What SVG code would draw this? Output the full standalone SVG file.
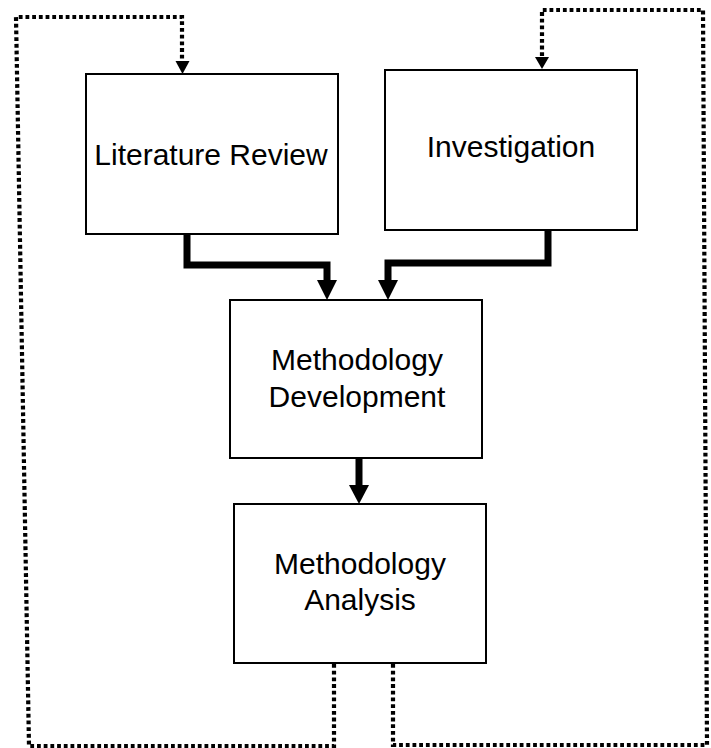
<svg xmlns="http://www.w3.org/2000/svg" width="711" height="748" viewBox="0 0 711 748">
  <style>
    .box { fill: #ffffff; stroke: #000000; stroke-width: 2; }
    .label { font-family: "Liberation Sans", Arial, sans-serif; font-size: 30px; fill: #000000; text-anchor: middle; }
    .flow { fill: none; stroke: #000000; stroke-width: 7; stroke-linejoin: miter; }
    .loop { fill: none; stroke: #000000; stroke-width: 4.2; stroke-dasharray: 3.8 2.9; }
    .head { fill: #000000; stroke: none; }
  </style>

  <rect width="711" height="748" fill="#ffffff"/>

  <!-- connectors -->
  <g id="connectors">
    <!-- solid flow arrows -->
    <path class="flow" d="M187,233 V265 H327 V282"/>
    <polygon class="head" points="317,280 337,280 327,300"/>
    <path class="flow" d="M548,230 V263 H388 V282"/>
    <polygon class="head" points="378,280 398,280 388,300"/>
    <path class="flow" d="M359,458 V487"/>
    <polygon class="head" points="349,485 369,485 359,504"/>

    <!-- dotted feedback loops -->
    <path class="loop" d="M334,664 V746 H29 L16,17 H182 V62"/>
    <polygon class="head" points="175.5,61 189.5,61 182.5,74"/>
    <path class="loop" d="M393,664 V745 H707 L703,10 H542 V58"/>
    <polygon class="head" points="535,57 549,57 542,69"/>
  </g>

  <!-- nodes -->
  <g id="literature-review">
    <rect class="box" x="86" y="74" width="252" height="160"/>
    <text class="label" x="211" y="165">Literature Review</text>
  </g>

  <g id="investigation">
    <rect class="box" x="385" y="70" width="252" height="160"/>
    <text class="label" x="511" y="157">Investigation</text>
  </g>

  <g id="methodology-development">
    <rect class="box" x="230" y="300" width="252" height="158"/>
    <text class="label" x="357" y="370">Methodology</text>
    <text class="label" x="357" y="407">Development</text>
  </g>

  <g id="methodology-analysis">
    <rect class="box" x="234" y="504" width="252" height="159"/>
    <text class="label" x="360" y="574">Methodology</text>
    <text class="label" x="360" y="610">Analysis</text>
  </g>
</svg>
